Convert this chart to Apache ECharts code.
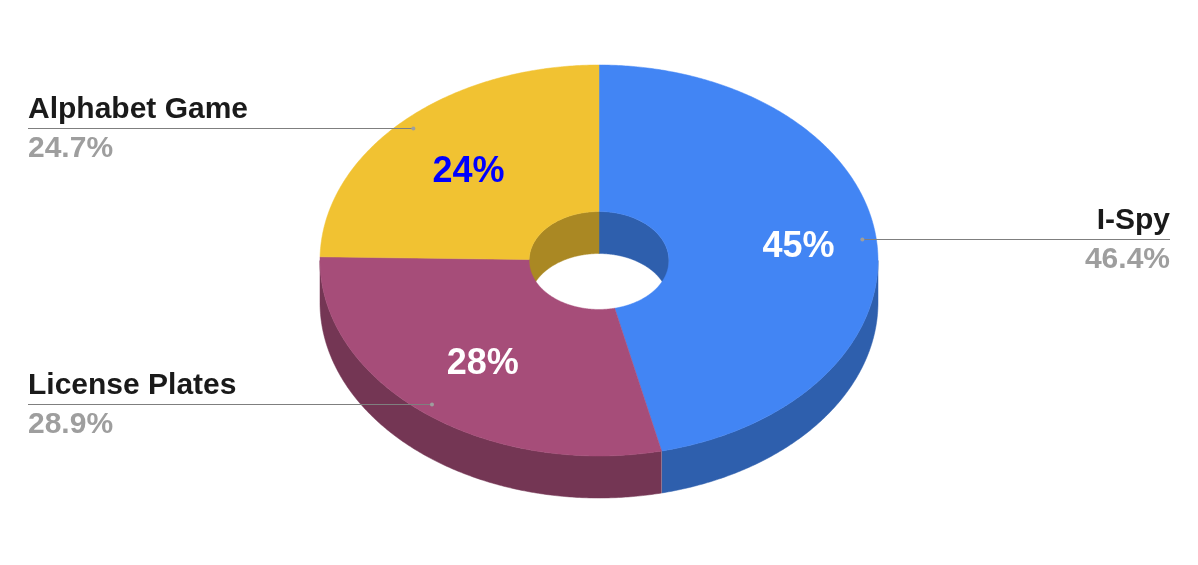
<!DOCTYPE html>
<html>
<head>
<meta charset="utf-8">
<style>html,body{margin:0;padding:0;background:#fff}#c{width:1198px;height:565px}</style>
<script src="https://cdn.jsdelivr.net/npm/echarts@6/dist/echarts.min.js"></script>
</head>
<body>
<div id="c"></div>
<script>
const categories = ['I-Spy', 'License Plates', 'Alphabet Game'];
const shares = [46.4, 28.9, 24.7];
const innerLabels = ['45%', '28%', '24%'];
const outerLabels = ['46.4%', '28.9%', '24.7%'];
const topColors = ['#4285f4', '#a64d79', '#f1c232'];
const wallColors = ['#2e5fad', '#743654', '#aa8823'];
const innerLabelColors = ['#ffffff', '#ffffff', '#0000ff'];

// Ellipse geometry of the tilted ring
const CX = 599, CY = 260.5, RX = 279, RY = 195.5, HOLE = 0.2505, DEPTH = 42;
const LEADER_R = 0.95;
const INNER_LABEL_R = [0.72, 0.667, 0.665];
const INNER_LABEL_SHIFT = [[0, 2], [1, 2], [-0.5, 4]];
const FONT = '"Liberation Sans", Arial, sans-serif';
const total = shares.reduce((a, b) => a + b, 0);

function pt(angleDeg, scale, dy) {
  const a = angleDeg * Math.PI / 180;
  return [CX + RX * scale * Math.sin(a), CY - RY * scale * Math.cos(a) + (dy || 0)];
}
function arc(a0, a1, scale, dy) {
  const n = Math.max(2, Math.ceil(Math.abs(a1 - a0) / 0.5));
  const out = [];
  for (let i = 0; i <= n; i++) out.push(pt(a0 + (a1 - a0) * i / n, scale, dy));
  return out;
}
function poly(points, color, z2) {
  return {
    type: 'polygon', z2: z2, silent: true,
    shape: { points: points },
    style: { fill: color, stroke: color, lineWidth: 0.5 }
  };
}
function txt(text, x, y, align, size, color, z2) {
  return {
    type: 'text', z2: z2, silent: true, x: x, y: y,
    style: { text: text, align: align, verticalAlign: 'middle', fill: color,
             font: 'bold ' + size + 'px ' + FONT }
  };
}

function renderItem(params, api) {
  const i = params.dataIndex;
  const value = api.value(1);
  let before = 0;
  for (let k = 0; k < i; k++) before += shares[k];
  const a0 = before / total * 360;
  const a1 = (before + value) / total * 360;
  const mid = (a0 + a1) / 2;
  const children = [];

  // Outer front wall: visible between 90 and 270 degrees
  const w0 = Math.max(a0, 90), w1 = Math.min(a1, 270);
  if (w1 > w0) {
    children.push(poly(arc(w0, w1, 1, 0).concat(arc(w1, w0, 1, DEPTH)), wallColors[i], 1));
  }
  // Faint seam where two walls meet on the front side
  if (a1 > 90 && a1 < 270) {
    const s = pt(a1, 1, 0);
    children.push({
      type: 'line', z2: 1.5, silent: true,
      shape: { x1: s[0], y1: s[1], x2: s[0], y2: s[1] + DEPTH },
      style: { stroke: 'rgba(255,255,255,0.25)', lineWidth: 1 }
    });
  }
  // Inner back wall of the hole: visible between 270 and 90 (through 0)
  [[a0, Math.min(a1, 90)], [Math.max(a0, 270), a1]].forEach(function (r) {
    if (r[1] > r[0]) {
      children.push(poly(arc(r[0], r[1], HOLE, 0).concat(arc(r[1], r[0], HOLE, DEPTH)), wallColors[i], 1));
    }
  });
  // Top face
  children.push(poly(arc(a0, a1, 1, 0).concat(arc(a1, a0, HOLE, 0)), topColors[i], 2));

  // Leader line, dot and outer labels
  const anchor = pt(mid, LEADER_R, 0);
  const right = anchor[0] > CX;
  const endX = right ? 1170 : 28;
  const align = right ? 'right' : 'left';
  const lineY = Math.floor(anchor[1] + 0.1);
  children.push({
    type: 'line', z2: 3, silent: true,
    shape: { x1: anchor[0], y1: lineY + 0.5, x2: endX, y2: lineY + 0.5 },
    style: { stroke: '#7f7f7f', lineWidth: 1 }
  });
  children.push({
    type: 'circle', z2: 3, silent: true,
    shape: { cx: anchor[0], cy: lineY + 0.5, r: 2 },
    style: { fill: '#9e9e9e' }
  });
  children.push(txt(categories[i], endX, lineY - 18, align, 30, '#1a1a1a', 4));
  children.push(txt(outerLabels[i], endX, lineY + 21, align, 30, '#9e9e9e', 4));

  // Inner value label
  const lp = pt(mid, INNER_LABEL_R[i], 0);
  children.push(txt(innerLabels[i], lp[0] + INNER_LABEL_SHIFT[i][0], lp[1] + INNER_LABEL_SHIFT[i][1], 'center', 36, innerLabelColors[i], 4));

  return { type: 'group', children: children };
}

const chart = echarts.init(document.getElementById('c'), null, { renderer: 'canvas' });
chart.setOption({
  backgroundColor: '#ffffff',
  animation: false,
  series: [{
    type: 'custom',
    coordinateSystem: 'none',
    renderItem: renderItem,
    silent: true,
    encode: { value: 1 },
    data: shares.map((v, i) => [i, v])
  }]
});
</script>
</body>
</html>
